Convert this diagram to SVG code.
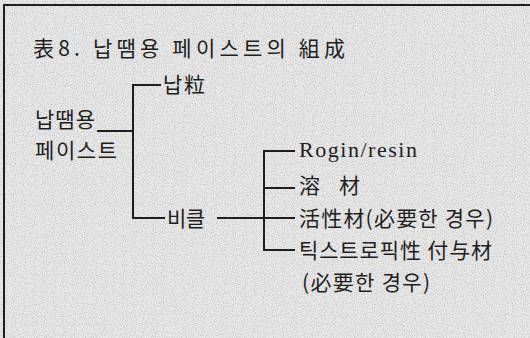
<svg xmlns="http://www.w3.org/2000/svg" width="530" height="338" viewBox="0 0 530 338">
<defs>
<filter id="grain" x="0" y="0" width="100%" height="100%">
<feTurbulence type="fractalNoise" baseFrequency="0.9" numOctaves="1" seed="3" result="n"/>
<feColorMatrix in="n" type="matrix" values="0 0 0 0 0.5  0 0 0 0 0.5  0 0 0 0 0.5  0 0 0 -2.4 1.3" result="d"/>
<feComposite in="d" in2="SourceGraphic" operator="in"/>
</filter>
<style>
.t{font-family:"Noto Sans CJK KR","Noto Sans CJK SC",sans-serif;font-size:21px;fill:#1e1e1e}
.r{font-family:"Liberation Serif",serif;font-size:22px;fill:#1e1e1e}
.c{stroke:#1e1e1e;stroke-width:2;fill:none}
</style>
</defs>
<rect width="530" height="338" fill="#e8e8e8"/>
<rect width="530" height="338" fill="#e8e8e8" filter="url(#grain)"/>
<path d="M4,338 V5 H530" stroke="#1e1e1e" stroke-width="2" fill="none"/>
<g id="title"><text class="t" x="33" y="56" font-size="22" textLength="312">表8. 납땜용 페이스트의 組成</text></g>
<g id="root"><text class="t" x="35" y="127" textLength="60">납땜용</text><text class="t" x="35" y="158" textLength="82">페이스트</text></g>
<g id="napryu"><text class="t" x="163" y="92" textLength="42">납粒</text></g>
<g id="vehicle"><text class="t" x="167" y="226" textLength="38">비클</text></g>
<g id="rosin"><text class="r" x="299" y="157" textLength="118">Rogin/resin</text></g>
<g id="solvent"><text class="t" x="299" y="193" textLength="61">溶 材</text></g>
<g id="activator"><text class="t" x="299" y="226" textLength="194">活性材(必要한 경우)</text></g>
<g id="thix"><text class="t" x="299" y="258" textLength="193">틱스트로픽性 付与材</text><text class="t" x="302" y="290" textLength="128">(必要한 경우)</text></g>
<g id="connectors">
<path class="c" d="M97,131 H133"/>
<path class="c" d="M161,85 H133 V218 H165"/>
<path class="c" d="M217,218 H295"/>
<path class="c" d="M295,151 H264 V250 H295"/>
<path class="c" d="M264,188 H295"/>
</g>
</svg>
